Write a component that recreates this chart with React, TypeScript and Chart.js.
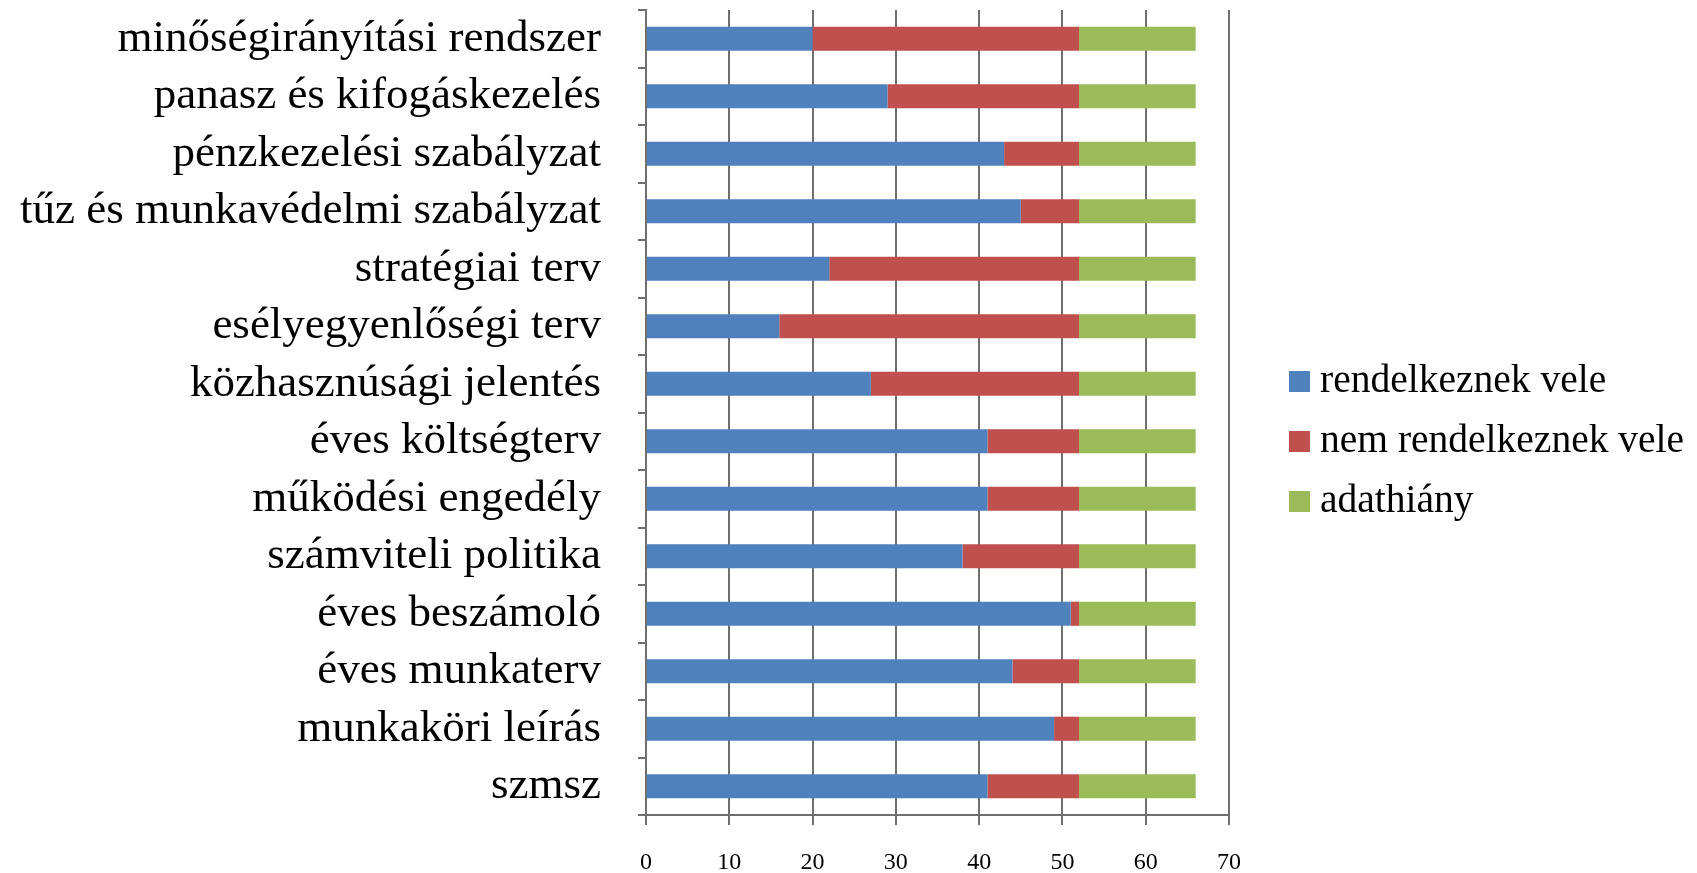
import React, { useEffect, useRef } from 'react';
import { Chart, registerables } from 'chart.js';

Chart.register(...registerables);

const categories = [
  'minőségirányítási rendszer',
  'panasz és kifogáskezelés',
  'pénzkezelési szabályzat',
  'tűz és munkavédelmi szabályzat',
  'stratégiai terv',
  'esélyegyenlőségi terv',
  'közhasznúsági jelentés',
  'éves költségterv',
  'működési engedély',
  'számviteli politika',
  'éves beszámoló',
  'éves munkaterv',
  'munkaköri leírás',
  'szmsz',
];

const haveIt = [20, 29, 43, 45, 22, 16, 27, 41, 41, 38, 51, 44, 49, 41];
const dontHaveIt = [32, 23, 9, 7, 30, 36, 25, 11, 11, 14, 1, 8, 3, 11];
const noData = [14, 14, 14, 14, 14, 14, 14, 14, 14, 14, 14, 14, 14, 14];

const seriesNames = ['rendelkeznek vele', 'nem rendelkeznek vele', 'adathiány'];
const seriesColors = ['#4F81BD', '#C0504D', '#9BBB59'];

const xMin = 0;
const xMax = 70;
const xStep = 10;

const FONT = '"Liberation Serif", "Times New Roman", serif';
const AXIS_GRAY = '#6f6f6f';

export default function App() {
  const ref = useRef<HTMLCanvasElement>(null);

  useEffect(() => {
    document.body.style.margin = '0';
    const canvas = ref.current;
    if (!canvas) return;

    const bgPlugin = {
      id: 'bgFill',
      beforeDraw(chart: any) {
        const ctx = chart.ctx;
        ctx.save();
        ctx.fillStyle = '#ffffff';
        ctx.fillRect(0, 0, chart.width, chart.height);
        ctx.restore();
      },
    };

    const legendPlugin = {
      id: 'sideLegend',
      afterDraw(chart: any) {
        const ctx = chart.ctx;
        ctx.save();
        chart.data.datasets.forEach((ds: any, i: number) => {
          const cy = 381.5 + i * 60;
          ctx.fillStyle = ds.backgroundColor;
          ctx.fillRect(1289, cy - 10.5, 21, 21);
          ctx.fillStyle = '#000';
          ctx.font = `39.5px ${FONT}`;
          ctx.textBaseline = 'alphabetic';
          ctx.textAlign = 'left';
          ctx.fillText(ds.label, 1320, cy + 10);
        });
        ctx.restore();
      },
    };

    const values = [haveIt, dontHaveIt, noData];

    const chart = new Chart(canvas, {
      type: 'bar',
      data: {
        labels: categories,
        datasets: values.map((v, i) => ({
          label: seriesNames[i],
          data: v,
          backgroundColor: seriesColors[i],
          borderWidth: 0,
          barPercentage: 0.42,
          categoryPercentage: 1,
        })),
      },
      options: {
        indexAxis: 'y',
        animation: false,
        responsive: false,
        layout: { padding: { top: 10, right: 468, bottom: 0, left: 0 } },
        plugins: {
          legend: { display: false },
          tooltip: { enabled: false },
        },
        scales: {
          x: {
            stacked: true,
            min: xMin,
            max: xMax,
            ticks: {
              stepSize: xStep,
              font: { family: FONT, size: 24 },
              color: '#000',
              padding: 23,
            },
            grid: {
              color: AXIS_GRAY,
              lineWidth: 2,
              tickLength: 10,
              drawTicks: true,
            },
            border: { color: AXIS_GRAY, width: 2 },
            afterFit: (s: any) => {
              s.height = 58;
              s.paddingLeft = 0;
              s.paddingRight = 0;
            },
          },
          y: {
            stacked: true,
            ticks: {
              font: { family: FONT, size: 45 },
              color: '#000',
              padding: 37,
              autoSkip: false,
            },
            grid: {
              drawOnChartArea: false,
              offset: true,
              color: AXIS_GRAY,
              lineWidth: 2,
              tickLength: 8,
            },
            border: { color: AXIS_GRAY, width: 2 },
            afterFit: (s: any) => {
              s.width = 646;
              s.paddingTop = 0;
              s.paddingBottom = 0;
            },
          },
        },
      },
      plugins: [bgPlugin, legendPlugin],
    });

    return () => chart.destroy();
  }, []);

  return (
    <div style={{ position: 'absolute', left: 0, top: 0, width: 1697, height: 873 }}>
      <canvas ref={ref} width={1697} height={873} style={{ display: 'block', width: 1697, height: 873 }} />
    </div>
  );
}
